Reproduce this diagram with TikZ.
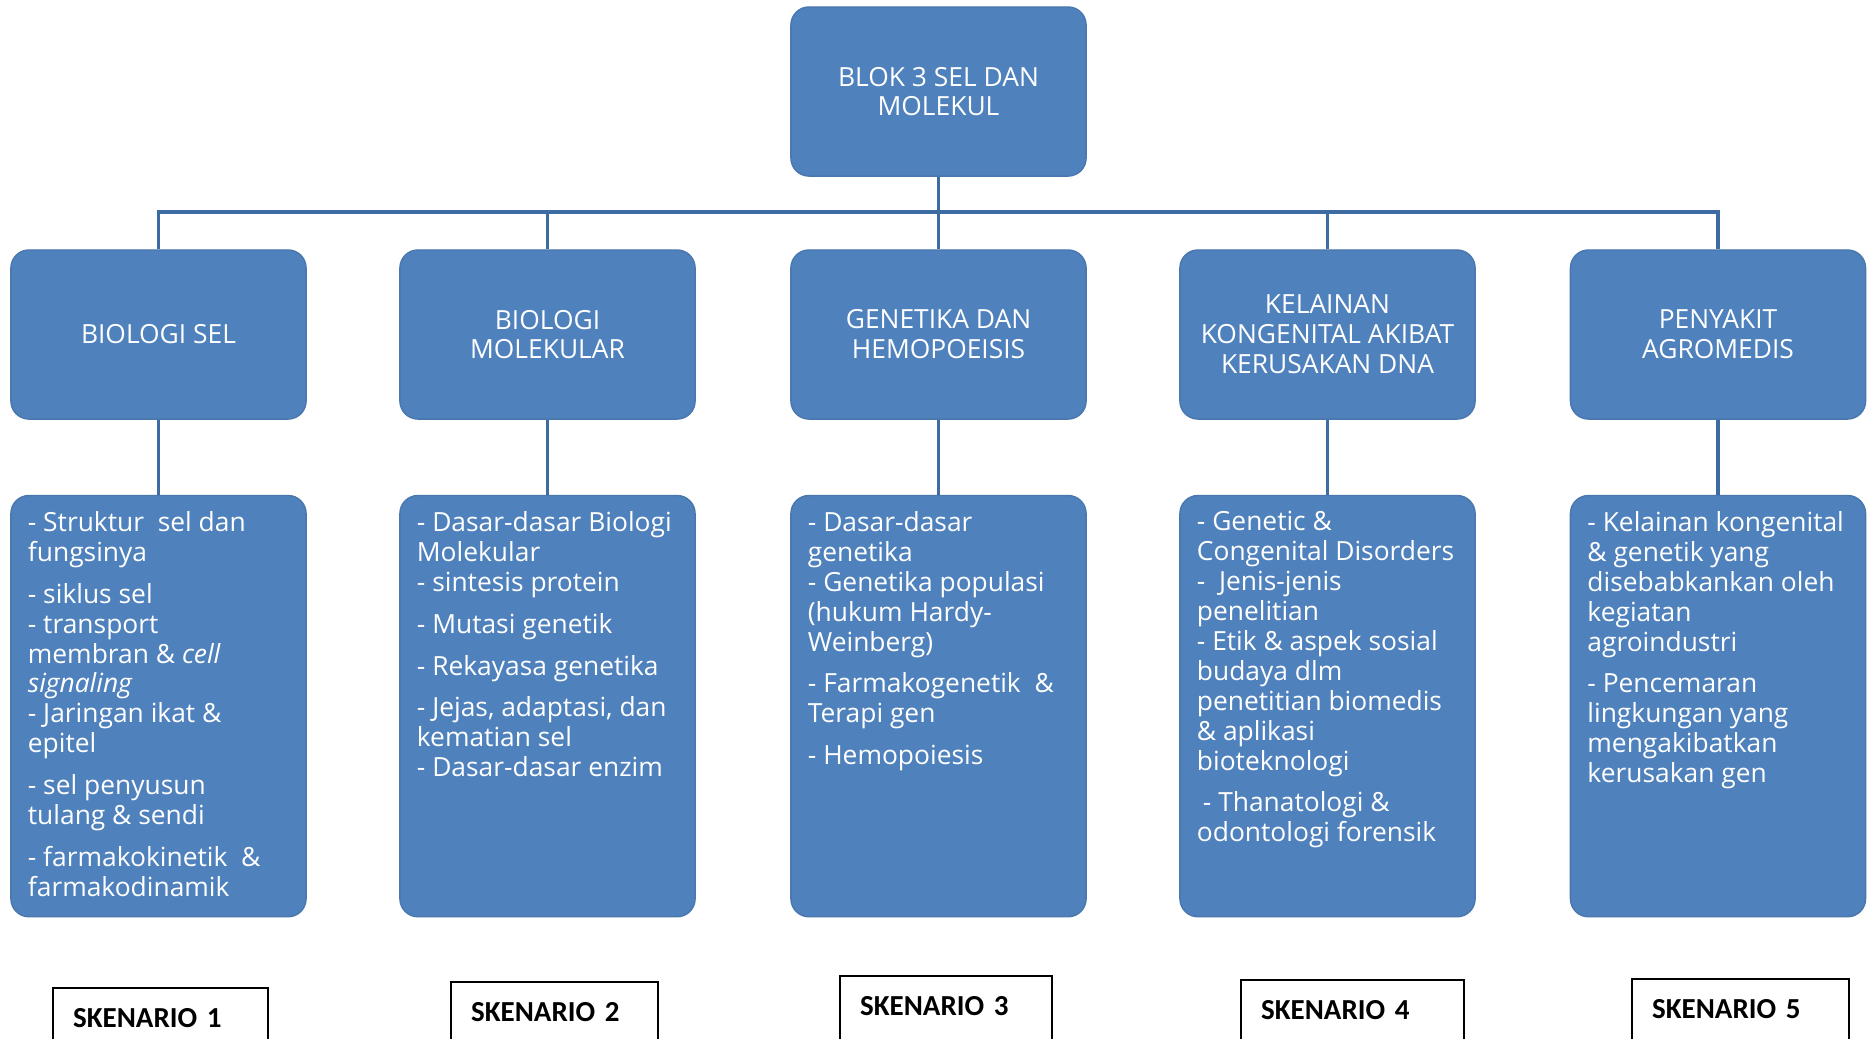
\documentclass[tikz,border=0pt]{standalone}
\usepackage{fontspec}
\setmainfont{Open Sans}
\newfontfamily\skenfont{Carlito}
\usetikzlibrary{positioning}
\definecolor{kotak}{HTML}{4F81BD}
\definecolor{garis}{HTML}{3D6CA3}

\tikzset{
    judul/.style={rectangle, rounded corners=0.18cm, fill=kotak, draw=kotak!92!black,
        text=white, minimum width=2.95cm, minimum height=1.69cm, align=center,
        font=\fontsize{7.5}{8.5}\selectfont},
    isi/.style={judul, minimum height=4.21cm},
    teks/.style={text=white, align=left, anchor=north west, inner sep=0pt,
        font=\fontsize{7.5}{8.5}\selectfont},
    hub/.style={draw=garis, line width=1.1pt},
    skenario/.style={draw=black, line width=0.6pt, anchor=north west, align=left,
        inner xsep=0.2cm, inner ysep=0.1cm, text height=0.29cm, text depth=0.6cm,
        font=\skenfont\bfseries\fontsize{8.25}{10}\selectfont}
}

\begin{document}
\begin{tikzpicture}[x=0.01cm, y=-0.01cm]
    \useasboundingbox (0,0) rectangle (1867,1038);
    \clip (0,0) rectangle (1867,1038);

    \node[judul] (blok) at (938.5,91.5) {BLOK 3 SEL DAN\\MOLEKUL};

    \node[judul] (sel) at (158.5,334.5) {BIOLOGI SEL};
    \node[judul] (molek) at (547.5,334.5) {BIOLOGI\\MOLEKULAR};
    \node[judul] (genet) at (938.5,334.5) {GENETIKA DAN\\HEMOPOEISIS};
    \node[judul] (kelain) at (1327.5,334.5) {KELAINAN\\KONGENITAL AKIBAT\\KERUSAKAN DNA};
    \node[judul] (agro) at (1718,334.5) {PENYAKIT\\AGROMEDIS};

    \node[isi, below=0.75cm of sel] (isiA) {};
    \node[isi, below=0.75cm of molek] (isiB) {};
    \node[isi, below=0.75cm of genet] (isiC) {};
    \node[isi, below=0.75cm of kelain] (isiD) {};
    \node[isi, below=0.75cm of agro] (isiE) {};

    \draw[hub] (blok.south) -- (genet.north);
    \draw[hub] (sel.north) -- ++(0,-37) -| (agro.north);
    \draw[hub] (molek.north) -- ++(0,-37);
    \draw[hub] (kelain.north) -- ++(0,-37);
    \draw[hub] (sel.south) -- (isiA.north);
    \draw[hub] (molek.south) -- (isiB.north);
    \draw[hub] (genet.south) -- (isiC.north);
    \draw[hub] (kelain.south) -- (isiD.north);
    \draw[hub] (agro.south) -- (isiE.north);

    \node[teks] (teksA) at ([shift={(0.17cm,-0.16cm)}]isiA.north west)
        {- Struktur\ \ sel dan\\fungsinya\\[3.4pt]
         - siklus sel\\- transport\\membran \& \emph{cell}\\\emph{signaling}\\
         - Jaringan ikat \&\\epitel\\[3.4pt]
         - sel penyusun\\tulang \& sendi\\[3.4pt]
         - farmakokinetik\ \ \&\\farmakodinamik};
    \node[teks] (teksB) at ([shift={(0.17cm,-0.16cm)}]isiB.north west)
        {- Dasar-dasar Biologi\\Molekular\\- sintesis protein\\[3.4pt]
         - Mutasi genetik\\[3.4pt]
         - Rekayasa genetika\\[3.4pt]
         - Jejas, adaptasi, dan\\kematian sel\\- Dasar-dasar enzim};
    \node[teks] (teksC) at ([shift={(0.17cm,-0.16cm)}]isiC.north west)
        {- Dasar-dasar\\genetika\\- Genetika populasi\\(hukum Hardy-\\Weinberg)\\[3.4pt]
         - Farmakogenetik\ \ \&\\Terapi gen\\[3.4pt]
         - Hemopoiesis};
    \node[teks] (teksD) at ([shift={(0.17cm,-0.16cm)}]isiD.north west)
        {- Genetic \&\\Congenital Disorders\\-\ \ Jenis-jenis\\penelitian\\
         - Etik \& aspek sosial\\budaya dlm\\penetitian biomedis\\\& aplikasi\\bioteknologi\\[3.4pt]
         \hspace{0.06cm}- Thanatologi \&\\odontologi forensik};
    \node[teks] (teksE) at ([shift={(0.17cm,-0.16cm)}]isiE.north west)
        {- Kelainan kongenital\\\& genetik yang\\disebabkankan oleh\\kegiatan\\agroindustri\\[3.4pt]
         - Pencemaran\\lingkungan yang\\mengakibatkan\\kerusakan gen};

    \node[skenario, text width=1.75cm] (sk1) at (52,987) {SKENARIO 1};
    \node[skenario, text width=1.67cm] (sk2) at (450,981) {SKENARIO 2};
    \node[skenario, text width=1.72cm] (sk3) at (839,975) {SKENARIO 3};
    \node[skenario, text width=1.83cm] (sk4) at (1240,979) {SKENARIO 4};
    \node[skenario, text width=1.77cm] (sk5) at (1631,978) {SKENARIO 5};
\end{tikzpicture}
\end{document}
